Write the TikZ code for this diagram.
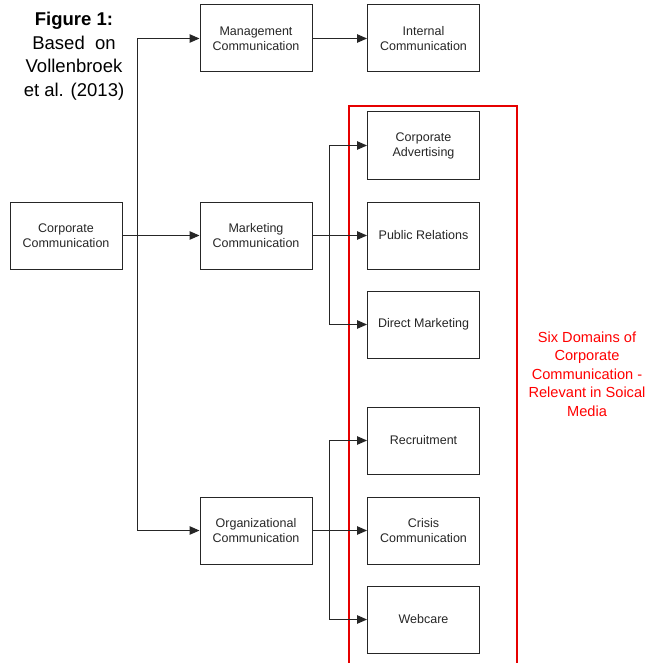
\documentclass[tikz,border=0pt]{standalone}
\usepackage{fontspec}
\setmainfont{Liberation Sans}
\usetikzlibrary{arrows.meta}
\definecolor{framered}{RGB}{230,0,0}
\definecolor{textred}{RGB}{255,0,0}
\begin{document}
\begin{tikzpicture}[x=1pt,y=-1pt,
  box/.style={draw=black!85,line width=1pt,minimum width=112pt,minimum height=67pt,inner sep=0pt,align=center,font=\fontsize{12.5}{15}\selectfont,text=black!85},
  conn/.style={draw=black!85,line width=1pt},
  arr/.style={conn,-{Triangle[length=10pt,width=8.5pt]}}]
\useasboundingbox (0,0) rectangle (651,663);
% red frame
\coordinate (r1) at (349,663);
\coordinate (r2) at (349,106);
\coordinate (r3) at (517,106);
\coordinate (r4) at (517,663);
\draw[draw=framered,line width=1.1pt] (r1) -- (r2) -- (r3) -- (r4);
% caption
\node[align=center,font=\fontsize{18.5}{23.5}\selectfont] (cap) at (74,56) {\textbf{Figure 1:}\\Based\ \ on\\Vollenbroek\\et al. (2013)};
% red label
\node[align=center,text=textred,font=\fontsize{14.6}{18.6}\selectfont] (lbl) at (587,374) {Six Domains of\\Corporate\\Communication -\\Relevant in Soical\\Media};
% boxes
\node[box] (cc) at (66,235.5) {Corporate\\Communication};
\node[box] (mgmt) at (256,38.5) {Management\\Communication};
\node[box] (ic) at (423.5,38.5) {Internal\\Communication};
\node[box] (mkt) at (256,235.5) {Marketing\\Communication};
\node[box] (ca) at (423.5,145.5) {Corporate\\Advertising};
\node[box] (pr) at (423.5,235.5) {Public Relations};
\node[box] (dm) at (423.5,324.5) {Direct Marketing};
\node[box] (org) at (256,530.5) {Organizational\\Communication};
\node[box] (rec) at (423.5,440.5) {Recruitment};
\node[box] (cri) at (423.5,530.5) {Crisis\\Communication};
\node[box] (web) at (423.5,619.5) {Webcare};
% junctions
\coordinate (j1) at (137,235.5);
\coordinate (j2) at (329,235.5);
\coordinate (j3) at (329,530.5);
% connectors
\draw[arr] (cc.east) -- (mkt.west);
\draw[arr] (j1) |- (mgmt.west);
\draw[arr] (j1) |- (org.west);
\draw[arr] (mgmt.east) -- (ic.west);
\draw[arr] (mkt.east) -- (pr.west);
\draw[arr] (j2) |- (ca.west);
\draw[arr] (j2) |- (dm.west);
\draw[arr] (org.east) -- (cri.west);
\draw[arr] (j3) |- (rec.west);
\draw[arr] (j3) |- (web.west);
\end{tikzpicture}
\end{document}
